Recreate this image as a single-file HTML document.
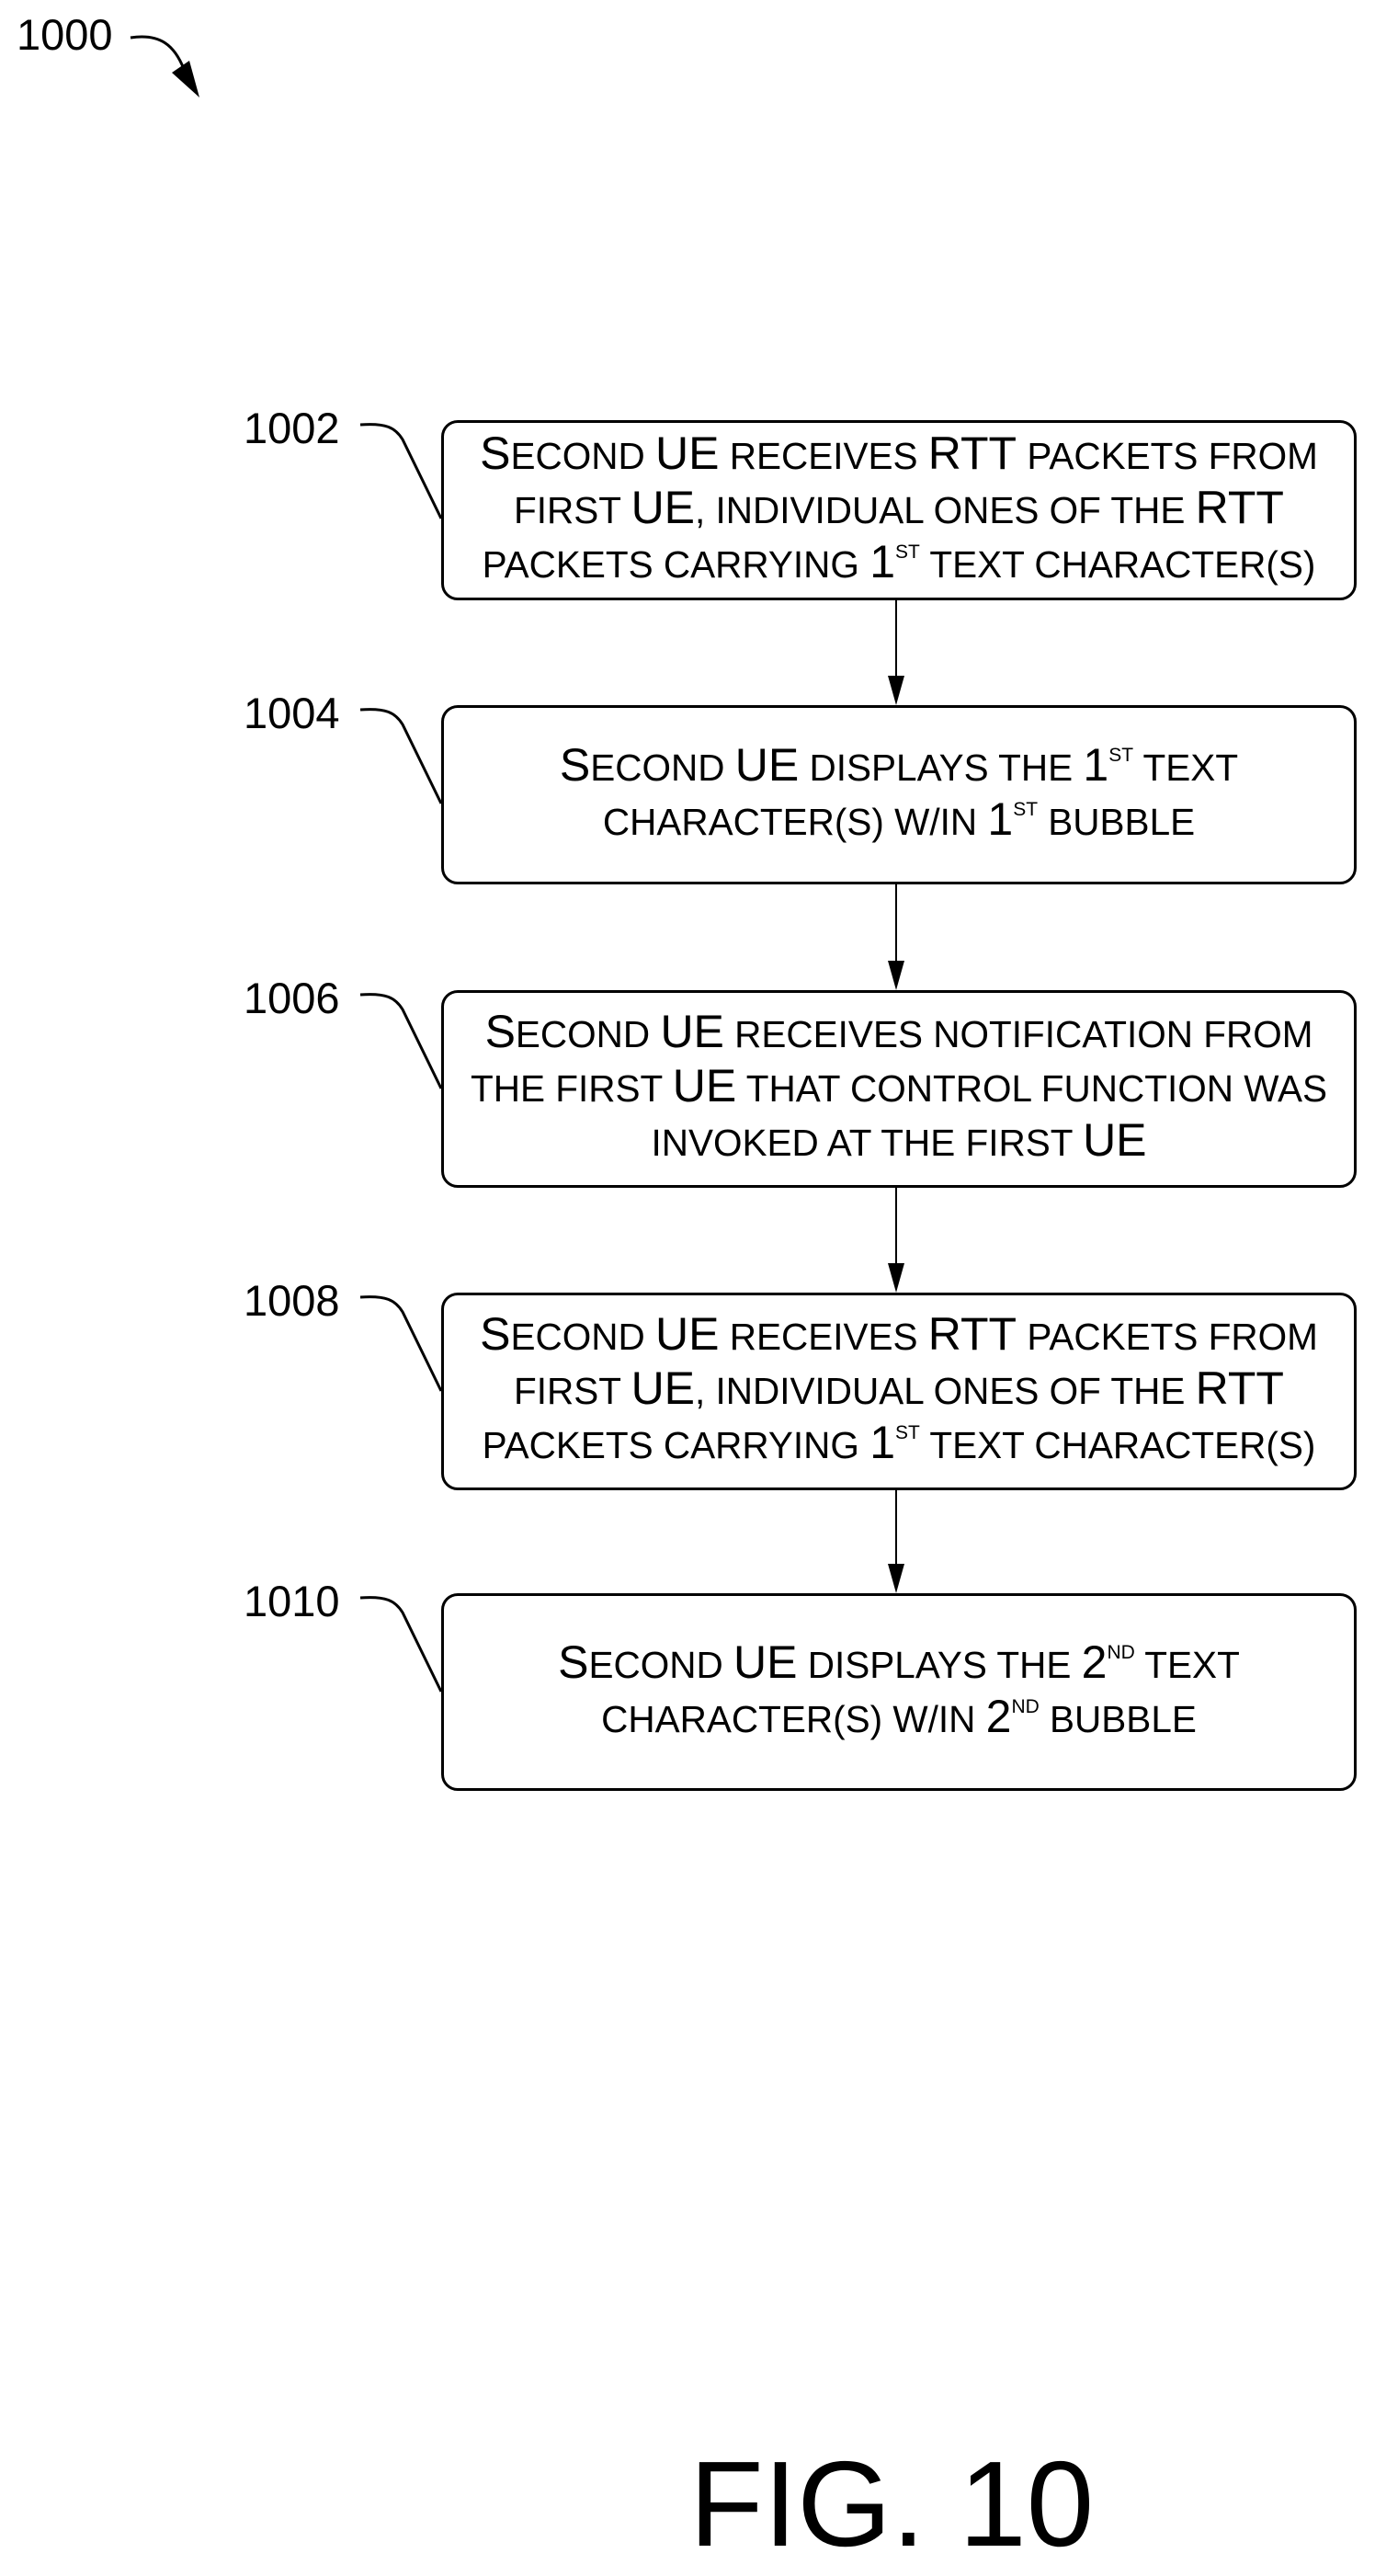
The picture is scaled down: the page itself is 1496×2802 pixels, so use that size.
<!DOCTYPE html>
<html><head><meta charset="utf-8"><style>
html,body{margin:0;padding:0;background:#fff;}
body{width:1496px;height:2802px;position:relative;overflow:hidden;font-family:"Liberation Sans",sans-serif;color:#000;}
.box{position:absolute;left:480px;border:3px solid #000;border-radius:18px;display:flex;align-items:center;justify-content:center;text-align:center;box-sizing:border-box;width:996px;}
.t{font-size:40.5px;line-height:59px;text-transform:uppercase;white-space:nowrap;}
.t span,.t sup{line-height:0;}
.b{font-size:50px;}
sup{font-size:21px;vertical-align:0;position:relative;top:-21px;}
.lbl{position:absolute;font-size:47px;line-height:1;}
</style></head><body>
<div class="lbl" style="left:18px;top:14px;">1000</div>
<div class="lbl" style="left:265px;top:442px;">1002</div>
<div class="lbl" style="left:265px;top:752px;">1004</div>
<div class="lbl" style="left:265px;top:1062px;">1006</div>
<div class="lbl" style="left:265px;top:1391px;">1008</div>
<div class="lbl" style="left:265px;top:1718px;">1010</div>

<div class="box" style="top:457px;height:196px;"><div class="t"><span class="b">S</span>econd <span class="b">UE</span> receives <span class="b">RTT</span> packets from<br>first <span class="b">UE</span>, individual ones of the <span class="b">RTT</span><br>packets carrying <span class="b">1</span><sup>ST</sup> text character(s)</div></div>
<div class="box" style="top:767px;height:195px;"><div class="t"><span class="b">S</span>econd <span class="b">UE</span> displays the <span class="b">1</span><sup>ST</sup> text<br>character(s) w/in <span class="b">1</span><sup>ST</sup> bubble</div></div>
<div class="box" style="top:1077px;height:215px;"><div class="t"><span class="b">S</span>econd <span class="b">UE</span> receives notification from<br>the first <span class="b">UE</span> that control function was<br>invoked at the first <span class="b">UE</span></div></div>
<div class="box" style="top:1406px;height:215px;"><div class="t"><span class="b">S</span>econd <span class="b">UE</span> receives <span class="b">RTT</span> packets from<br>first <span class="b">UE</span>, individual ones of the <span class="b">RTT</span><br>packets carrying <span class="b">1</span><sup>ST</sup> text character(s)</div></div>
<div class="box" style="top:1733px;height:215px;"><div class="t"><span class="b">S</span>econd <span class="b">UE</span> displays the <span class="b">2</span><sup>ND</sup> text<br>character(s) w/in <span class="b">2</span><sup>ND</sup> bubble</div></div>

<svg style="position:absolute;left:0;top:0" width="1496" height="2802">
<g fill="none" stroke="#000" stroke-width="3">
<path d="M142 41 C175 36 190 50 200 75"/>
<path d="M392 462 C420 460 430 465 438 478 L480 564"/>
<path d="M392 772 C420 770 430 775 438 788 L480 874"/>
<path d="M392 1082 C420 1080 430 1085 438 1098 L480 1184"/>
<path d="M392 1411 C420 1409 430 1414 438 1427 L480 1513"/>
<path d="M392 1738 C420 1736 430 1741 438 1754 L480 1840"/>
<path d="M975 653 V740 M975 962 V1050 M975 1292 V1379 M975 1621 V1706" stroke-width="2"/>
</g>
<g fill="#000">
<polygon points="187,79 206,66 217,106"/>
<polygon points="966,735 984,735 975,767"/>
<polygon points="966,1045 984,1045 975,1077"/>
<polygon points="966,1374 984,1374 975,1406"/>
<polygon points="966,1701 984,1701 975,1733"/>
</g>
</svg>
<div style="position:absolute;left:750px;top:2658px;font-size:132px;line-height:1;">FIG. 10</div>
</body></html>
